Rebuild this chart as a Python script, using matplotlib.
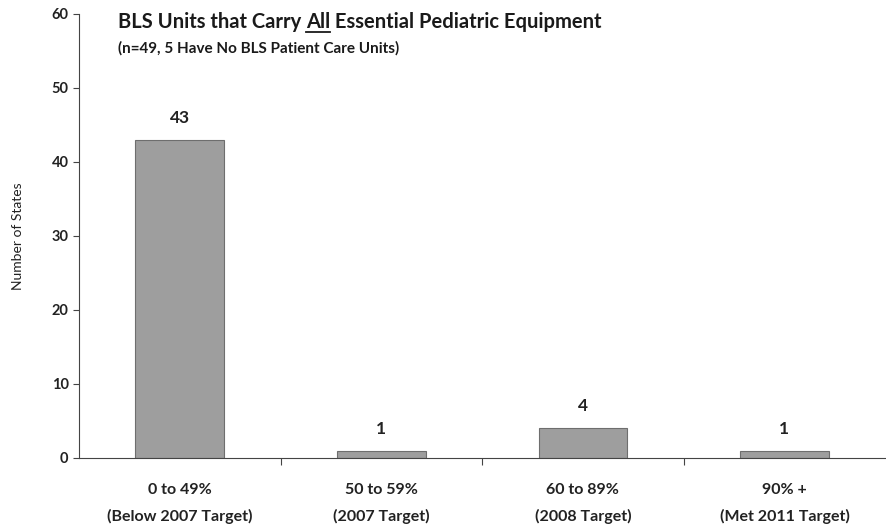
import matplotlib
matplotlib.use("Agg")
import matplotlib.pyplot as plt
from matplotlib.lines import Line2D

categories = ["0 to 49%\n(Below 2007 Target)", "50 to 59%\n(2007 Target)",
              "60 to 89%\n(2008 Target)", "90% +\n(Met 2011 Target)"]
values = [43, 1, 4, 1]
yticks = [0, 10, 20, 30, 40, 50, 60]

plt.rcParams['font.family'] = ['Lato', 'DejaVu Sans']

fig = plt.figure(figsize=(8.87, 5.31), dpi=100)
ax = fig.add_axes([0.089, 0.1375, 0.909, 0.8365])

x = list(range(len(values)))
ax.bar(x, values, width=0.44, color='#9e9e9e', edgecolor='#6e6e6e', linewidth=0.8)
for xi, v in zip(x, values):
    ax.text(xi, v + 1.9, str(v), ha='center', va='bottom', fontsize=12.5, fontweight='bold', color='#222222')

ax.set_xlim(-0.5, 3.5)
ax.set_ylim(0, 60)
ax.set_yticks(yticks)
ax.set_yticklabels([str(t) for t in yticks], fontsize=10.5, fontweight='bold', color='#222222')
ax.set_xticks([0.5, 1.5, 2.5], minor=False)
ax.set_xticklabels([])
ax.tick_params(axis='x', direction='out', length=5, color='#444444')
ax.tick_params(axis='y', direction='out', length=4, color='#444444')
for i, c in enumerate(categories):
    ax.text(i, -3.4, c, ha='center', va='top', fontsize=11.5, fontweight='bold', color='#222222', linespacing=1.95)
ax.spines['top'].set_visible(False)
ax.spines['right'].set_visible(False)
ax.spines['left'].set_color('#444444')
ax.spines['bottom'].set_color('#444444')
ax.set_ylabel("Number of States", fontsize=10, color='#222222', labelpad=20)

# Title with underlined "All"
fig.canvas.draw()
r = fig.canvas.get_renderer()
tx, ty = 118/887, 1 - 28/531
parts = ["BLS Units that Carry ", "All", " Essential Pediatric Equipment"]
cur = tx
under = None
for p in parts:
    t = fig.text(cur, ty, p, fontsize=14.5, fontweight='bold', color='#1a1a1a', ha='left', va='baseline')
    bb = t.get_window_extent(renderer=r)
    if p == "All":
        under = (bb.x0 / fig.bbox.width, bb.x1 / fig.bbox.width)
    cur = bb.x1 / fig.bbox.width
if under:
    yl = ty - 4 / 531
    fig.add_artist(Line2D([under[0], under[1]], [yl, yl], transform=fig.transFigure, color='#1a1a1a', linewidth=1.3))
fig.text(tx, 1 - 53/531, "(n=49, 5 Have No BLS Patient Care Units)", fontsize=11, fontweight='bold', color='#1a1a1a', ha='left', va='baseline')

fig.savefig("out.png", dpi=100)
